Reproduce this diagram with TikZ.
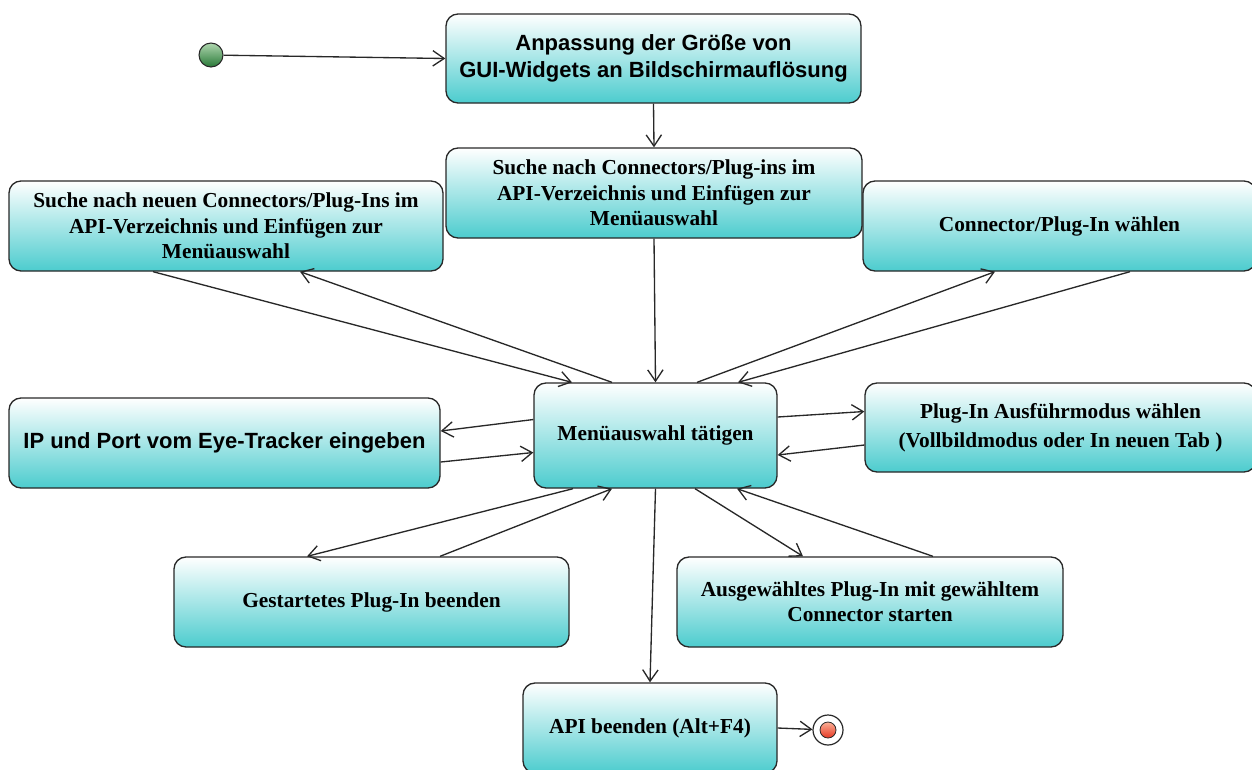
\documentclass[tikz,border=0pt]{standalone}
\usepackage{fontspec}
\setmainfont{Liberation Serif}
\newfontfamily\headsans{Liberation Sans}
\usetikzlibrary{arrows.meta,calc}
\definecolor{boxteal}{RGB}{76,204,206}
\definecolor{edgegray}{RGB}{40,40,40}
\definecolor{startgreen}{RGB}{40,120,55}
\definecolor{startlight}{RGB}{175,215,175}
\definecolor{endlight}{RGB}{250,175,150}
\definecolor{endred}{RGB}{230,55,35}
\begin{document}
\begin{tikzpicture}[x=0.75pt,y=-0.75pt,
  sz/.style 2 args={minimum width=#1*0.75pt, minimum height=#2*0.75pt},
  state/.style={draw=edgegray, line width=1pt, rounded corners=9pt,
    top color=white, bottom color=boxteal, align=center, inner sep=2pt,
    font=\bfseries\fontsize{16}{19}\selectfont},
  sansstate/.style={state, font=\headsans\bfseries\fontsize{16.5}{20}\selectfont},
  flow/.style={draw=edgegray, line width=1pt,
    -{Straight Barb[length=8.5pt,width=11.5pt]}}]
\useasboundingbox (0,0) rectangle (1252,769);

% start and end markers
\node[circle, draw=edgegray, line width=0.8pt, inner sep=0pt, minimum size=24*0.75pt,
  top color=startlight, bottom color=startgreen] (st) at (211,55) {};
\node[circle, draw=edgegray, line width=0.9pt, inner sep=0pt, minimum size=30*0.75pt,
  fill=white] (fin) at (828,730) {};
\node[circle, draw=edgegray, line width=0.6pt, inner sep=0pt, minimum size=16*0.75pt,
  top color=endlight, bottom color=endred] (fincore) at (fin) {};

% states
\node[sansstate, sz={415}{89}] (A) at (653.5,58.5)
  {Anpassung der Größe von\\GUI-Widgets an Bildschirmauflösung};
\node[state, sz={416}{90}] (B) at (654,193)
  {Suche nach Connectors/Plug-ins im\\API-Verzeichnis und Einfügen zur\\Menüauswahl};
\node[state, sz={434}{90}] (L) at (226,226)
  {Suche nach neuen Connectors/Plug-Ins im\\API-Verzeichnis und Einfügen zur\\Menüauswahl};
\node[state, sz={393}{90}] (R) at (1059.5,226) {Connector/Plug-In wählen};
\node[state, sz={243}{105}] (M) at (655.5,435.5) {Menüauswahl tätigen};
\node[sansstate, sz={431}{90}] (IP) at (224.5,443) {IP und Port vom Eye-Tracker eingeben};
\node[state, sz={391}{89}] (P) at (1060.5,427.5)
  {Plug-In Ausführmodus wählen\\[3pt](Vollbildmodus oder In neuen Tab )};
\node[state, sz={395}{90}] (G) at (371.5,602) {Gestartetes Plug-In beenden};
\node[state, sz={386}{90}] (S) at (870,602)
  {Ausgewähltes Plug-In mit gewähltem\\Connector starten};
\node[state, sz={254}{90}] (E) at (650,728) {API beenden (Alt+F4)};

% transitions
\draw[flow] (st) -- (A.west);
\draw[flow] (A.south) -- (B.north);
\draw[flow] (B.south) -- (M.north);
\draw[flow] ($(L.south)+(-73,0)$) -- ($(M.north)+(-83.5,0)$);
\draw[flow] ($(M.north)+(-43.5,0)$) -- ($(L.south)+(74,0)$);
\draw[flow] ($(M.north)+(41.5,0)$) -- ($(R.south)+(-64.5,0)$);
\draw[flow] ($(R.south)+(70.5,0)$) -- ($(M.north)+(82.5,0)$);
\draw[flow] ($(M.west)+(0,-16)$) -- ($(IP.east)+(0,-12)$);
\draw[flow] ($(IP.east)+(0,19)$) -- ($(M.west)+(0,17)$);
\draw[flow] ($(M.east)+(0,-18.5)$) -- ($(P.west)+(0,-16)$);
\draw[flow] ($(P.west)+(0,17.5)$) -- ($(M.east)+(0,19.5)$);
\draw[flow] ($(M.south)+(-82.5,0)$) -- ($(G.north)+(-64.5,0)$);
\draw[flow] ($(G.north)+(68.5,0)$) -- ($(M.south)+(-43.5,0)$);
\draw[flow] ($(M.south)+(39.5,0)$) -- ($(S.north)+(-67,0)$);
\draw[flow] ($(S.north)+(63,0)$) -- ($(M.south)+(81.5,0)$);
\draw[flow] (M.south) -- (E.north);
\draw[flow] (E.east) -- (fin);
\end{tikzpicture}
\end{document}
